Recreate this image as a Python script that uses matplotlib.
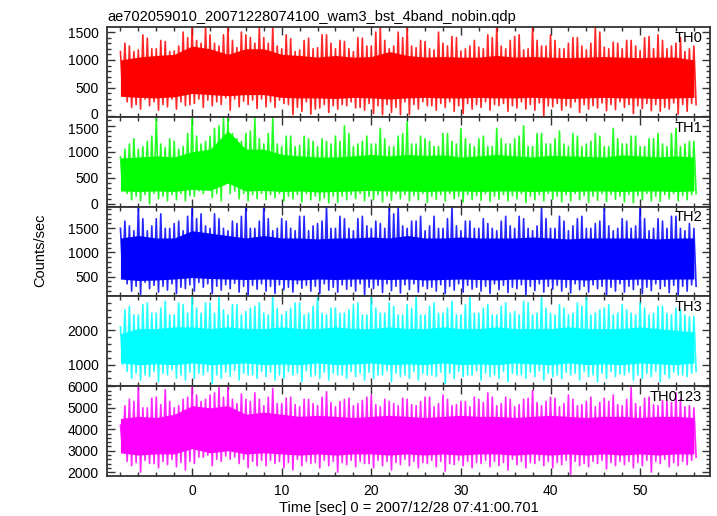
import numpy as np
import matplotlib
matplotlib.use("Agg")
import matplotlib.pyplot as plt
from matplotlib.ticker import MultipleLocator
from matplotlib.transforms import ScaledTranslation

plt.rcParams['font.family'] = ['Liberation Sans', 'DejaVu Sans']

# time grids [sec]
t_peak = list(range(-8, 57))        # 1 s steps, spike extremes (a: on the second, b: half a second later)
t_core = list(range(-8, 57, 2))     # 2 s steps, dense band
t_end = 56.4

# TH0
th0_hi = [1150, 1250, 1180, 1390, 1200, 1330, 1160, 1500,
          1590, 1300, 1450, 1250, 1590, 1220, 1450, 1300,
          1400, 1590, 1200, 1380, 1180, 1390, 1220, 1450,
          1200, 1330, 1150, 1390, 1250, 1590, 1200, 1500,
          1590, 1220, 1330, 1180, 1300, 1420, 1160, 1250,
          1230, 1450, 1590, 1200, 1420, 1180, 1590, 1250,
          1450, 1200, 1300, 1400, 1180, 1590, 1230, 1320,
          1200, 1350, 1170, 1420, 1450, 1200, 1300, 1150, 1250]
th0_lo = [400, 150, 120, 180, 100, 160, 120, 180,
          220, 150, 180, 200, 100, 160, 200, 130,
          160, 150, 220, 20, 80, 30, 140, 60,
          120, 180, 140, 100, 40, 20, 60, 20,
          20, 120, 180, 100, 150, 80, 40, 120,
          150, 100, 180, 80, 140, 120, 100, 0,
          160, 100, 150, 60, 120, 140, 90, 110,
          150, 40, 130, 90, 80, 120, 30, 80, 200]
th0_hi_b = [1300, 1150, 1450, 1200, 1350, 1150, 1250, 1400,
            1350, 1590, 1300, 1450, 1350, 1500, 1400, 1590,
            1300, 1250, 1450, 1150, 1350, 1200, 1450, 1300,
            1350, 1200, 1400, 1250, 1500, 1350, 1250, 1400,
            1250, 1350, 1200, 1500, 1250, 1400, 1200, 1350,
            1200, 1400, 1250, 1350, 1450, 1200, 1350, 1250,
            1350, 1200, 1400, 1250, 1300, 1500, 1200, 1300,
            1350, 1250, 1400, 1200, 1350, 1250, 1400, 1200]
th0_lo_b = [250, 200, 300, 250, 200, 300, 250, 200,
            300, 280, 250, 320, 300, 260, 280, 300,
            250, 280, 200, 150, 250, 120, 200, 180,
            200, 250, 150, 220, 180, 200, 150, 250,
            200, 250, 180, 220, 250, 180, 220, 200,
            250, 200, 220, 180, 250, 200, 230, 180,
            220, 180, 250, 200, 180, 230, 200, 250,
            200, 180, 220, 200, 150, 230, 200, 220]
th0_core_hi = [1000, 1050, 1080, 1100, 1250, 1200, 1100, 1200, 1200, 1100, 1080,
               1050, 1080, 1050, 1060, 1150, 1080, 1050, 1060, 1050, 1050, 1080,
               1050, 1060, 1050, 1040, 1050, 1060, 1050, 1040, 1050, 1050, 1000]
th0_core_lo = [350, 330, 320, 340, 400, 380, 360, 380, 380, 330, 320,
               320, 310, 330, 320, 300, 320, 330, 320, 320, 330, 320,
               320, 330, 320, 310, 320, 330, 320, 320, 310, 320, 330]

# TH1
th1_hi = [900, 1150, 1050, 1200, 1640, 1080, 1200, 1100,
          1640, 1150, 1300, 1500, 1640, 1250, 1350, 1640,
          1150, 1640, 1100, 1300, 1120, 1250, 1100, 1200,
          1300, 1500, 1100, 1200, 1150, 1450, 1100, 1300,
          1580, 1150, 1250, 1100, 1350, 1200, 1450, 1150,
          1250, 1100, 1450, 1150, 1250, 1500, 1100, 1350,
          1150, 1400, 1100, 1300, 1150, 1350, 1100, 1450,
          1150, 1300, 1100, 1250, 1350, 1100, 1450, 1150, 1200]
th1_lo = [300, 80, 60, 0, 100, 60, 80, 60,
          150, 200, 120, 60, 200, 100, 60, 100,
          80, 120, 60, 100, 40, 80, 60, 20,
          30, 80, 100, 60, 80, 40, 70, 100,
          60, 80, 30, 90, 60, 100, 40, 80,
          70, 50, 90, 60, 100, 30, 80, 60,
          90, 40, 60, 80, 30, 70, 50, 90,
          40, 20, 80, 60, 50, 100, 60, 80, 200]
th1_hi_b = [1050, 1250, 1100, 1300, 1150, 1250, 1050, 1350,
            1300, 1200, 1450, 1640, 1350, 1200, 1400, 1250,
            1350, 1150, 1300, 1100, 1300, 1200, 1250, 1150,
            1200, 1350, 1150, 1300, 1150, 1250, 1100, 1350,
            1150, 1300, 1200, 1100, 1350, 1150, 1250, 1100,
            1300, 1100, 1250, 1150, 1300, 1100, 1350, 1150,
            1250, 1150, 1350, 1100, 1200, 1300, 1100, 1250,
            1150, 1300, 1100, 1250, 1150, 1350, 1100, 1200]
th1_lo_b = [200, 150, 180, 200, 150, 180, 200, 160,
            250, 300, 200, 400, 250, 200, 180, 200,
            180, 200, 150, 180, 200, 150, 120, 150,
            150, 180, 200, 150, 180, 160, 200, 180,
            160, 200, 150, 180, 200, 150, 180, 160,
            200, 150, 180, 160, 200, 150, 180, 200,
            150, 180, 200, 160, 150, 200, 180, 150,
            180, 160, 200, 150, 180, 200, 160, 180]
th1_core_hi = [880, 900, 920, 900, 1000, 1050, 1400, 1050, 1050, 950, 920,
               900, 900, 920, 950, 920, 950, 930, 940, 900, 920, 950,
               920, 900, 930, 920, 910, 900, 940, 920, 900, 920, 900]
th1_core_lo = [250, 240, 250, 240, 280, 260, 400, 250, 260, 240, 250,
               230, 240, 250, 260, 250, 250, 240, 250, 250, 240, 250,
               250, 240, 250, 240, 250, 250, 240, 250, 250, 240, 250]

# TH2
th2_hi = [1500, 1550, 1950, 1450, 1700, 1500, 1600, 1450,
          1950, 1800, 1500, 1700, 1450, 1600, 1950, 1500,
          1950, 1450, 1700, 1500, 1750, 1450, 1600, 1950,
          1500, 1700, 1450, 1750, 1500, 1600, 1950, 1950,
          1500, 1650, 1450, 1750, 1500, 1950, 1450, 1650,
          1500, 1600, 1450, 1750, 1500, 1700, 1450, 1950,
          1500, 1750, 1450, 1700, 1500, 1600, 1950, 1450,
          1700, 1500, 1950, 1450, 1700, 1500, 1750, 1450, 1500]
th2_lo = [600, 200, 130, 250, 180, 220, 150, 250,
          200, 280, 150, 220, 250, 180, 120, 240,
          200, 150, 230, 180, 260, 200, 150, 220,
          180, 240, 200, 120, 250, 170, 210, 160,
          230, 180, 250, 200, 150, 220, 180, 240,
          200, 150, 230, 170, 250, 120, 210, 180,
          240, 200, 160, 230, 180, 250, 100, 200,
          180, 230, 150, 210, 250, 170, 120, 200, 300]
th2_hi_b = [1650, 1450, 1700, 1550, 1800, 1500, 1650, 1750,
            1700, 1550, 1800, 1500, 1650, 1750, 1500, 1650,
            1700, 1500, 1650, 1450, 1750, 1550, 1650, 1500,
            1750, 1500, 1700, 1550, 1650, 1500, 1800, 1550,
            1650, 1750, 1550, 1500, 1700, 1550, 1650, 1500,
            1700, 1500, 1650, 1550, 1750, 1500, 1550, 1700,
            1500, 1650, 1550, 1750, 1500, 1650, 1550, 1500,
            1650, 1550, 1700, 1500, 1650, 1750, 1500, 1600]
th2_lo_b = [350, 300, 380, 320, 300, 350, 280, 330,
            380, 350, 300, 330, 360, 300, 320, 350,
            300, 330, 280, 350, 320, 300, 350, 280,
            330, 300, 350, 280, 320, 350, 300, 330,
            350, 300, 280, 330, 300, 350, 320, 280,
            300, 350, 320, 280, 330, 300, 350, 300,
            320, 280, 350, 300, 330, 300, 280, 350,
            300, 330, 280, 350, 300, 320, 300, 330]
th2_core_hi = [1300, 1350, 1300, 1300, 1450, 1400, 1350, 1300, 1350, 1300, 1300,
               1280, 1300, 1300, 1320, 1300, 1350, 1300, 1300, 1320, 1300, 1300,
               1300, 1320, 1300, 1280, 1300, 1300, 1300, 1300, 1280, 1300, 1300]
th2_core_lo = [450, 420, 430, 450, 480, 460, 450, 440, 450, 440, 430,
               450, 440, 450, 450, 440, 450, 430, 440, 450, 440, 430,
               450, 440, 450, 440, 430, 450, 440, 450, 440, 450, 450]

# TH3
th3_hi = [2100, 2700, 2450, 2800, 2500, 2850, 2450, 2750,
          2990, 2500, 2800, 2990, 2450, 2750, 2550, 2700,
          2500, 2990, 2450, 2650, 2800, 2500, 2990, 2450,
          2650, 2500, 2750, 2450, 2990, 2500, 2800, 2450,
          2750, 2990, 2450, 2800, 2500, 2850, 2450, 2990,
          2500, 2750, 2450, 2800, 2550, 2850, 2450, 2990,
          2500, 2750, 2450, 2800, 2990, 2500, 2650, 2450,
          2750, 2500, 2800, 2450, 2700, 2500, 2650, 2450, 2400]
th3_lo = [1000, 600, 550, 650, 500, 700, 600, 550,
          600, 700, 450, 600, 650, 550, 700, 600,
          650, 550, 600, 700, 500, 650, 600, 550,
          700, 600, 650, 550, 600, 700, 500, 650,
          600, 550, 700, 650, 450, 600, 650, 700,
          550, 650, 600, 500, 700, 600, 650, 550,
          650, 600, 700, 550, 650, 500, 600, 650,
          700, 550, 600, 650, 500, 600, 700, 650, 800]
th3_hi_b = [2600, 2450, 2750, 2500, 2650, 2450, 2800, 2500,
            2650, 2800, 2500, 2600, 2750, 2450, 2650, 2800,
            2450, 2650, 2550, 2800, 2450, 2700, 2500, 2650,
            2500, 2600, 2800, 2450, 2650, 2500, 2700, 2450,
            2650, 2450, 2700, 2500, 2650, 2450, 2750, 2500,
            2650, 2450, 2700, 2500, 2450, 2800, 2500, 2650,
            2450, 2650, 2500, 2700, 2450, 2600, 2750, 2500,
            2600, 2450, 2650, 2500, 2700, 2450, 2600, 2400]
th3_lo_b = [800, 750, 700, 800, 750, 850, 700, 780,
            750, 800, 700, 780, 820, 750, 700, 800,
            780, 700, 800, 750, 820, 700, 780, 750,
            700, 800, 750, 780, 700, 820, 750, 700,
            800, 750, 700, 780, 750, 800, 700, 820,
            750, 700, 800, 750, 700, 780, 820, 750,
            700, 780, 750, 800, 700, 750, 800, 720,
            780, 700, 750, 800, 720, 780, 700, 750]
th3_core_hi = [1900, 2050, 2050, 2100, 2100, 2050, 2100, 2050, 2050, 2100, 2050,
               2050, 2100, 2050, 2050, 2100, 2050, 2050, 2100, 2050, 2050, 2100,
               2050, 2050, 2050, 2100, 2050, 2050, 2050, 2100, 2050, 2000, 1950]
th3_core_lo = [1050, 1000, 1020, 1000, 1050, 1000, 1020, 1050, 1000, 1020, 1000,
               1050, 1000, 1020, 1050, 1000, 1020, 1000, 1050, 1000, 1020, 1000,
               1050, 1020, 1000, 1050, 1000, 1020, 1000, 1050, 1020, 1000, 1050]

# TH0123
th0123_hi = [4200, 5400, 5950, 5000, 5500, 5850, 5000, 5400,
             5950, 5300, 5600, 5950, 5950, 5200, 5400, 5700,
             5100, 5900, 5200, 5500, 5050, 5400, 5100, 5750,
             5050, 5400, 5100, 5350, 5600, 5050, 5300, 5100,
             5400, 5100, 5500, 5050, 5600, 5100, 5300, 5050,
             5400, 5700, 5100, 5500, 5050, 5400, 5800, 5100,
             5500, 5050, 5600, 5100, 5300, 5050, 5450, 5600,
             5100, 5950, 5050, 5500, 5100, 5300, 5700, 5050, 5000]
th0123_lo = [3000, 2300, 2000, 2400, 2200, 2350, 2250, 2100,
             2400, 2700, 2300, 2500, 2600, 2400, 2200, 2300,
             2300, 2400, 2200, 2100, 2300, 2400, 2200, 2300,
             2000, 2350, 2250, 2400, 2200, 2300, 2100, 2350,
             2300, 2200, 2400, 2250, 2050, 2350, 2300, 2200,
             2400, 2250, 2300, 2100, 2350, 2200, 2400, 2300,
             2200, 2350, 1900, 2300, 2250, 2400, 2150, 2300,
             2350, 2200, 2300, 2000, 2400, 2250, 2300, 2350, 2700]
th0123_hi_b = [5100, 5300, 5000, 5450, 5150, 5300, 5100, 5500,
               5600, 5400, 5700, 5500, 5400, 5650, 5300, 5400,
               5500, 5200, 5450, 5150, 5400, 5200, 5500, 5250,
               5300, 5450, 5200, 5500, 5150, 5400, 5200, 5450,
               5150, 5300, 5500, 5200, 5400, 5150, 5300, 5500,
               5250, 5500, 5200, 5400, 5150, 5450, 5250, 5300,
               5450, 5200, 5400, 5150, 5500, 5250, 5300, 5150,
               5400, 5200, 5450, 5150, 5350, 5250, 5400, 5100]
th0123_lo_b = [2500, 2450, 2550, 2400, 2500, 2600, 2450, 2500,
               2700, 2800, 2600, 2750, 2700, 2600, 2500, 2550,
               2550, 2500, 2450, 2600, 2500, 2450, 2550, 2500,
               2450, 2550, 2500, 2400, 2550, 2500, 2450, 2600,
               2500, 2450, 2550, 2500, 2400, 2550, 2500, 2450,
               2550, 2500, 2450, 2600, 2500, 2450, 2550, 2500,
               2450, 2550, 2500, 2400, 2500, 2550, 2450, 2500,
               2500, 2450, 2550, 2500, 2600, 2450, 2500, 2550]
th0123_core_hi = [4500, 4600, 4550, 4700, 5100, 5000, 5100, 4700, 4800, 4700, 4600,
                  4650, 4600, 4550, 4600, 4650, 4600, 4550, 4600, 4650, 4600, 4600,
                  4550, 4600, 4650, 4600, 4550, 4600, 4600, 4550, 4600, 4600, 4550]
th0123_core_lo = [2900, 2800, 2850, 2850, 3100, 2900, 3000, 2850, 2900, 2850, 2800,
                  2850, 2800, 2850, 2850, 2800, 2850, 2800, 2850, 2800, 2850, 2850,
                  2800, 2850, 2800, 2850, 2800, 2850, 2800, 2850, 2800, 2850, 2850]

panels = [
    ("TH0", "#ff0000", th0_hi, th0_lo, th0_hi_b, th0_lo_b, th0_core_hi, th0_core_lo, (-18, 1590), 500, 100),
    ("TH1", "#00ff00", th1_hi, th1_lo, th1_hi_b, th1_lo_b, th1_core_hi, th1_core_lo, (-50, 1670), 500, 100),
    ("TH2", "#0000ff", th2_hi, th2_lo, th2_hi_b, th2_lo_b, th2_core_hi, th2_core_lo, (90, 1950), 500, 100),
    ("TH3", "#00ffff", th3_hi, th3_lo, th3_hi_b, th3_lo_b, th3_core_hi, th3_core_lo, (370, 2990), 1000, 200),
    ("TH0123", "#ff00ff", th0123_hi, th0123_lo, th0123_hi_b, th0123_lo_b, th0123_core_hi, th0123_core_lo,
     (1820, 6010), 1000, 200),
]

fig = plt.figure(figsize=(7.17, 5.16), dpi=100)
left, right = 107 / 717, 710 / 717
top_px, bot_px = 27, 476
h_px = (bot_px - top_px) / 5

for i, (name, color, hi, lo, hi_b, lo_b, chi, clo, ylim, major, minor) in enumerate(panels):
    y0 = 1 - (top_px + (i + 1) * h_px) / 516
    ax = fig.add_axes([left, y0, right - left, h_px / 516])

    # dense band
    tc = np.array(t_core, dtype=float)
    tc[-1] = min(tc[-1], t_end)
    ax.fill_between(tc, clo, chi, color=color, lw=0)

    # spikes: zig-zag through the quarter-second extremes
    xs, ys = [], []
    for k, t in enumerate(t_peak):
        xs += [t, t + 0.25]
        ys += [hi[k], lo[k]]
        if k < len(hi_b):
            xs += [t + 0.5, t + 0.75]
            ys += [hi_b[k], lo_b[k]]
    xs = np.minimum(xs, t_end)
    ax.plot(xs, ys, color=color, lw=1.2, alpha=0.85)

    ax.set_xlim(-9.5, 57.8)
    ax.set_ylim(*ylim)
    ax.xaxis.set_major_locator(MultipleLocator(10))
    ax.xaxis.set_minor_locator(MultipleLocator(2))
    ticks = [v for v in range(0, 7000, major) if ylim[0] <= v <= ylim[1]]
    ax.set_yticks(ticks)
    ax.yaxis.set_minor_locator(MultipleLocator(minor))
    ax.tick_params(which="both", direction="in", top=True, right=True,
                   labelsize=10, width=1.0, color="#333333", pad=6)
    ax.tick_params(which="major", length=6)
    ax.tick_params(which="minor", length=3)
    for s in ax.spines.values():
        s.set_linewidth(1.3)
        s.set_color("#333333")
    # keep neighbouring panel labels apart
    labs = ax.get_yticklabels()
    if i == 0:
        labs[0].set_transform(labs[0].get_transform() + ScaledTranslation(0, 2 / 72, fig.dpi_scale_trans))
    if i == 1:
        labs[-1].set_transform(labs[-1].get_transform() + ScaledTranslation(0, -2 / 72, fig.dpi_scale_trans))
    if i < 4:
        ax.tick_params(labelbottom=False)
    else:
        ax.set_xlabel("Time [sec] 0 = 2007/12/28 07:41:00.701", fontsize=10.5, labelpad=2)
    ax.text(0.987, 0.88, name, transform=ax.transAxes, ha="right", va="center",
            fontsize=10.5)
    if i == 0:
        ax.set_title("ae702059010_20071228074100_wam3_bst_4band_nobin.qdp",
                     loc="left", fontsize=10.5, pad=4)

fig.text(40 / 717, 1 - 250 / 516, "Counts/sec", rotation=90, ha="center", va="center",
         fontsize=10.5)

fig.savefig("out.png", dpi=100)
